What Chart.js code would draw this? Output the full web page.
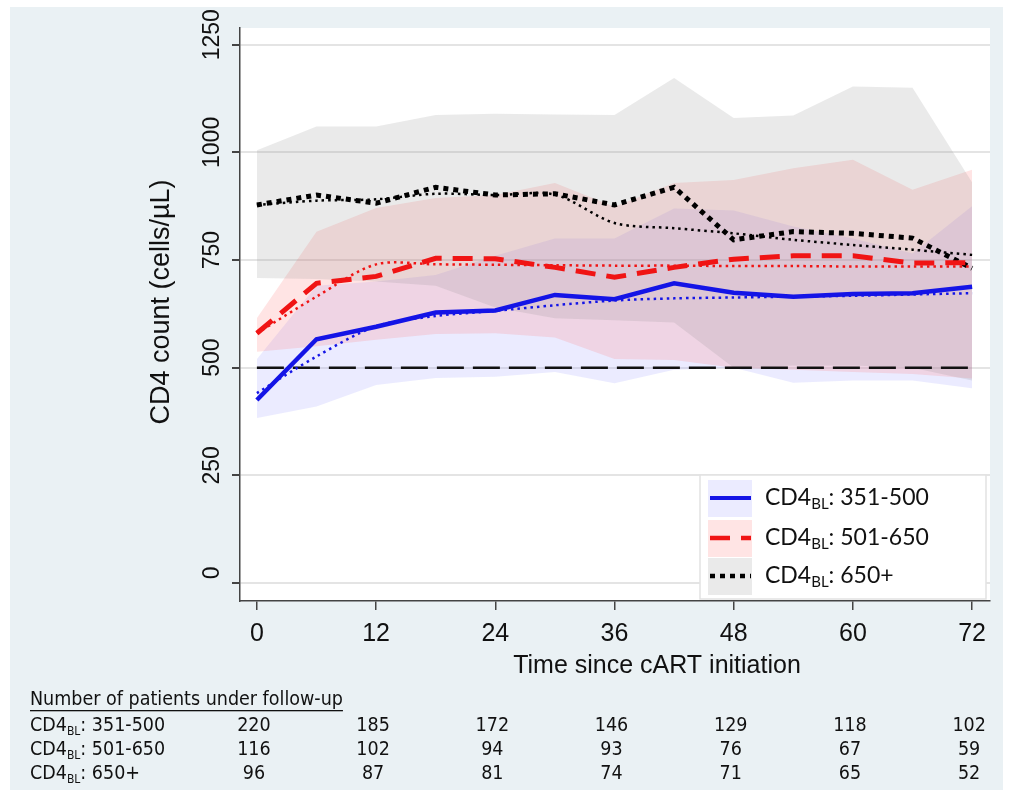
<!DOCTYPE html>
<html>
<head>
<meta charset="utf-8">
<script src="https://cdn.jsdelivr.net/npm/chart.js@4.4.1/dist/chart.umd.min.js"></script>
<style>
  html, body { margin: 0; padding: 0; background: #fff; }
  #wrap { width: 1010px; height: 790px; position: relative; }
</style>
</head>
<body>
<div id="wrap"><canvas id="cd4"></canvas></div>
<script>
// CD4 trajectories after cART start, by baseline CD4 group

const months = [0, 6, 12, 18, 24, 30, 36, 42, 48, 54, 60, 66, 72];
const xTicks = [0, 12, 24, 36, 48, 60, 72];
const yTicks = [0, 250, 500, 750, 1000, 1250];
const groups = ['351-500', '501-650', '650+'];
const threshold = 500;

// observed means
const obs351 = [425, 566, 595, 628, 633, 669, 659, 696, 674, 665, 671, 673, 688];
const obs501 = [580, 696, 712, 754, 753, 733, 710, 733, 752, 760, 760, 743, 744];
const obs650 = [878, 901, 882, 919, 901, 904, 878, 919, 797, 816, 812, 801, 731];

// model fits
const fit351 = [441, 526, 596, 620, 632, 645, 656, 661, 663, 665, 667, 670, 673];
const fit501 = [580, 665, 740, 740, 739, 738, 737, 737, 736, 736, 735, 735, 735];
const fit650 = [878, 888, 891, 904, 901, 902, 836, 824, 812, 797, 785, 774, 762];

// confidence bands
const lo351 = [383, 410, 460, 476, 479, 490, 464, 495, 500, 465, 470, 470, 452];
const hi351 = [520, 690, 700, 715, 760, 800, 800, 870, 865, 828, 800, 765, 875];
const lo501 = [537, 550, 565, 578, 580, 570, 520, 518, 500, 495, 490, 485, 475];
const hi501 = [615, 816, 871, 894, 901, 929, 874, 929, 936, 963, 983, 913, 960];
const lo650 = [708, 706, 700, 690, 640, 615, 610, 605, 500, 505, 505, 500, 470];
const hi650 = [1005, 1060, 1060, 1087, 1090, 1088, 1087, 1173, 1080, 1086, 1153, 1150, 930];

// patients under follow-up at each tick
const nFollow351 = [220, 185, 172, 146, 129, 118, 102];
const nFollow501 = [116, 102, 94, 93, 76, 67, 59];
const nFollow650 = [96, 87, 81, 74, 71, 65, 52];

const BLUE = '#1414e6';
const RED = '#f01414';
const BLACK = '#000';
const BAND_BLUE = 'rgba(120,120,255,0.15)';
const BAND_RED = 'rgba(255,120,120,0.20)';
const BAND_GREY = 'rgba(140,140,140,0.18)';
const AXIS_FONT = '"Liberation Sans", Arial, sans-serif';
const TABLE_FONT = '"Liberation Sans Narrow", "DejaVu Sans Condensed", sans-serif';
const LEGEND_FONT = 'Lato, "Noto Sans", sans-serif';

const pts = arr => months.map((m, i) => ({ x: m, y: arr[i] }));

function band(lo, hi, color) {
  return [
    { label: 'lo', data: pts(lo), borderWidth: 0, pointRadius: 0, fill: false, order: 3 },
    { label: 'hi', data: pts(hi), borderWidth: 0, pointRadius: 0, fill: '-1',
      backgroundColor: color, order: 3 },
  ];
}

function line(arr, color, width, dash, tension = 0) {
  return {
    data: pts(arr), borderColor: color, borderWidth: width, borderDash: dash,
    pointRadius: 0, fill: false, tension, order: 1, borderCapStyle: 'butt',
  };
}

const styles = {
  '351-500': { color: BLUE, width: 4.5, dash: [], band: BAND_BLUE },
  '501-650': { color: RED, width: 5, dash: [20, 11], band: BAND_RED },
  '650+':    { color: BLACK, width: 5, dash: [5, 5], band: BAND_GREY },
};

/* ── Draw text like CD4 with a BL subscript ──────────── */
function drawSubLabel(ctx, x, y, size, family, rest) {
  ctx.textAlign = 'left';
  ctx.textBaseline = 'middle';
  ctx.font = `${size}px ${family}`;
  ctx.fillText('CD4', x, y);
  let w = ctx.measureText('CD4').width;
  const sub = Math.round(size * 0.64);
  ctx.font = `${sub}px ${family}`;
  ctx.fillText('BL', x + w, y + size * 0.28);
  w += ctx.measureText('BL').width;
  ctx.font = `${size}px ${family}`;
  ctx.fillText(rest, x + w, y);
}

const decor = {
  id: 'decor',
  beforeDraw(chart) {
    const { ctx, chartArea: a } = chart;
    ctx.save();
    ctx.fillStyle = '#fff';
    ctx.fillRect(0, 0, chart.width, chart.height);
    ctx.fillStyle = '#eaf1f4';
    ctx.fillRect(10, 7, 993, 783);
    ctx.fillStyle = '#fff';
    ctx.fillRect(a.left, a.top, a.right - a.left, a.bottom - a.top);
    ctx.restore();
  },
  afterDraw(chart) {
    const { ctx } = chart;
    const xs = chart.scales.x, ys = chart.scales.y;
    ctx.save();
    ctx.fillStyle = '#111';

    // rotated y tick labels
    ctx.font = `23px ${AXIS_FONT}`;
    ctx.textAlign = 'center';
    ctx.textBaseline = 'middle';
    yTicks.forEach(v => {
      ctx.save();
      ctx.translate(213, ys.getPixelForValue(v) - 10);
      ctx.rotate(-Math.PI / 2);
      ctx.fillText(String(v), 0, 0);
      ctx.restore();
    });

    // axis titles
    ctx.save();
    ctx.font = `27px ${AXIS_FONT}`;
    ctx.translate(162, 302);
    ctx.rotate(-Math.PI / 2);
    ctx.fillText('CD4 count (cells/\u00B5L)', 0, 0);
    ctx.restore();
    ctx.font = `25px ${AXIS_FONT}`;
    ctx.fillText('Time since cART initiation', 657, 666);

    // legend
    ctx.fillStyle = '#fff';
    ctx.fillRect(700, 475, 286, 124);
    ctx.strokeStyle = '#e2e2e2';
    ctx.lineWidth = 1.5;
    ctx.strokeRect(700, 475, 286, 124);
    const rowY = [498, 538, 576];
    groups.forEach((g, i) => {
      const s = styles[g];
      ctx.fillStyle = s.band;
      ctx.fillRect(708, rowY[i] - 18, 44, 37);
      ctx.beginPath();
      ctx.setLineDash(s.dash);
      ctx.strokeStyle = s.color;
      ctx.lineWidth = s.width - 0.5;
      ctx.moveTo(710, rowY[i]);
      ctx.lineTo(751, rowY[i]);
      ctx.stroke();
      ctx.setLineDash([]);
      ctx.fillStyle = '#111';
      drawSubLabel(ctx, 765, rowY[i], 23, LEGEND_FONT, ': ' + g);
    });

    // follow-up table
    ctx.fillStyle = '#111';
    ctx.font = `19.5px ${TABLE_FONT}`;
    ctx.textAlign = 'left';
    ctx.textBaseline = 'middle';
    const head = 'Number of patients under follow-up';
    ctx.fillText(head, 30, 700);
    const hw = ctx.measureText(head).width;
    ctx.fillRect(30, 710, hw, 1.3);
    const rows = [nFollow351, nFollow501, nFollow650];
    const tableY = [726, 750, 774];
    rows.forEach((r, i) => {
      drawSubLabel(ctx, 30, tableY[i], 19.5, TABLE_FONT, ': ' + groups[i]);
      ctx.font = `19.5px ${TABLE_FONT}`;
      ctx.textAlign = 'center';
      r.forEach((n, j) => ctx.fillText(String(n), xs.getPixelForValue(xTicks[j]) - 3, tableY[i]));
    });
    ctx.restore();
  },
};

const datasets = [
  line(obs351, BLUE, 4.5, []),
  line(fit351, BLUE, 2.5, [2.5, 4], 0.3),
  line(obs501, RED, 5, [20, 11]),
  line(fit501, RED, 2.5, [2.5, 4], 0.3),
  line(obs650, BLACK, 5, [5, 5]),
  line(fit650, BLACK, 2.5, [2.5, 4], 0.3),
  { data: [months[0], months[months.length - 1]].map(m => ({ x: m, y: threshold })),
    borderColor: '#111', borderWidth: 2.5, borderDash: [27, 9], pointRadius: 0,
    fill: false, order: 2 },
  ...band(lo650, hi650, BAND_GREY),
  ...band(lo501, hi501, BAND_RED),
  ...band(lo351, hi351, BAND_BLUE),
];

new Chart(document.getElementById('cd4'), {
  type: 'line',
  data: { datasets },
  options: {
    responsive: true,
    maintainAspectRatio: false,
    animation: false,
    layout: { padding: { top: 28, right: 20, left: 0, bottom: 0 } },
    plugins: { legend: { display: false }, tooltip: { enabled: false } },
    scales: {
      x: {
        type: 'linear', min: -1.7, max: 73.8,
        afterBuildTicks: s => { s.ticks = xTicks.map(v => ({ value: v })); },
        afterFit: s => { s.height = 189; },
        ticks: { color: '#111', padding: 9, maxRotation: 0, autoSkip: false,
                 font: { family: AXIS_FONT, size: 25 } },
        grid: { drawOnChartArea: false, drawTicks: true, tickLength: 9,
                tickColor: '#444', lineWidth: 1.5 },
        border: { color: '#444', width: 1.5 },
      },
      y: {
        type: 'linear', min: -42, max: 1289,
        afterBuildTicks: s => { s.ticks = yTicks.map(v => ({ value: v })); },
        afterFit: s => { s.width = 240; },
        ticks: { display: false },
        grid: { color: '#e4e4e4', lineWidth: 2, drawTicks: true, tickLength: 8,
                tickColor: '#444' },
        border: { color: '#444', width: 1.5 },
      },
    },
  },
  plugins: [decor],
});
</script>
</body>
</html>
